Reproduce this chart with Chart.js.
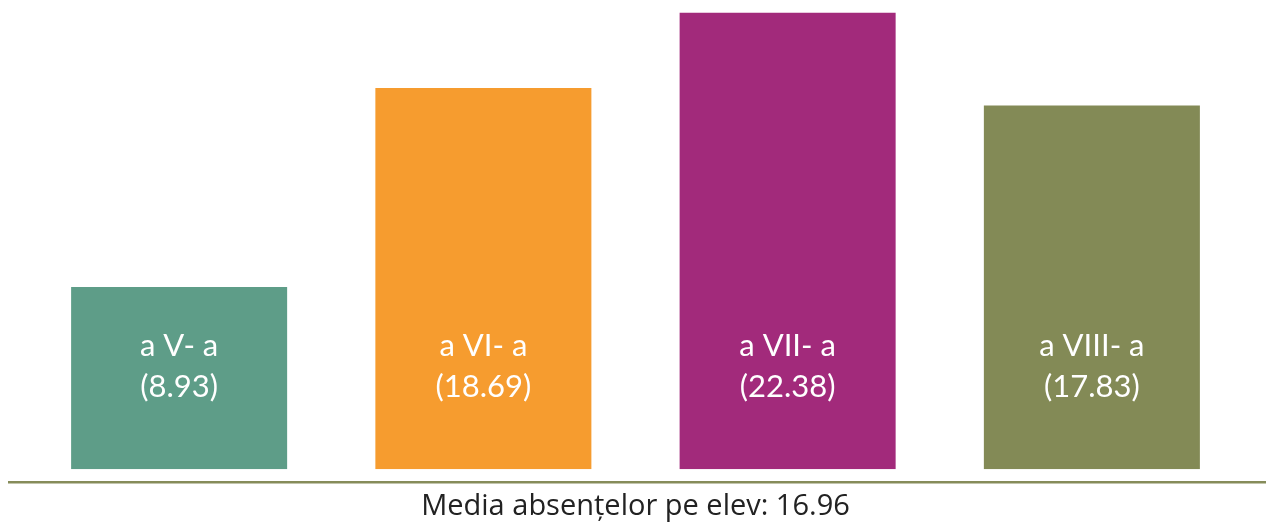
<!DOCTYPE html>
<html>
<head>
<meta charset="utf-8">
<script src="https://cdn.jsdelivr.net/npm/chart.js@4"></script>
<style>
  html, body { margin: 0; padding: 0; background: #fff; }
  #wrap { width: 1266px; height: 524px; }
</style>
</head>
<body>
<div id="wrap"><canvas id="barChart"></canvas></div>
<script>
var grades = ['a V- a', 'a VI- a', 'a VII- a', 'a VIII- a'];
var absences = [8.93, 18.69, 22.38, 17.83];
var barColors = ['#5E9D88', '#F69C2F', '#A22A7B', '#838A56'];
var average = 16.96;

// white labels inside the bars + the olive base line
var barLabels = {
    id: 'barLabels',
    afterDatasetsDraw: function (chart) {
        var ctx = chart.ctx;
        var area = chart.chartArea;
        ctx.save();
        ctx.strokeStyle = '#868C5A';
        ctx.lineWidth = 2.5;
        ctx.beginPath();
        ctx.moveTo(8, area.bottom + 13);
        ctx.lineTo(chart.width, area.bottom + 13);
        ctx.stroke();

        ctx.fillStyle = '#ffffff';
        ctx.font = '31px Lato';
        ctx.textAlign = 'center';
        ctx.textBaseline = 'middle';
        chart.getDatasetMeta(0).data.forEach(function (bar, i) {
            ctx.fillText(grades[i], bar.x, 346);
            ctx.fillText('(' + absences[i].toFixed(2) + ')', bar.x, 387);
        });
        ctx.restore();
    }
};

var ctx = document.getElementById('barChart').getContext('2d');
new Chart(ctx, {
    type: 'bar',
    data: {
        labels: grades,
        datasets: [{
            data: absences,
            backgroundColor: barColors,
            barPercentage: 0.71,
            categoryPercentage: 1
        }]
    },
    options: {
        responsive: true,
        maintainAspectRatio: false,
        animation: false,
        layout: { padding: { left: 27, right: 22, top: 0, bottom: 0 } },
        scales: {
            x: { display: false },
            y: { display: false, min: 0, max: 23 }
        },
        plugins: {
            legend: { display: false },
            tooltip: { enabled: false },
            title: {
                display: true,
                position: 'bottom',
                text: 'Media absențelor pe elev: ' + average.toFixed(2),
                color: '#222222',
                font: { family: 'Open Sans', size: 29, weight: 'normal', lineHeight: 1.2 },
                padding: { top: 20, bottom: 0 }
            }
        }
    },
    plugins: [barLabels]
});
</script>
</body>
</html>
